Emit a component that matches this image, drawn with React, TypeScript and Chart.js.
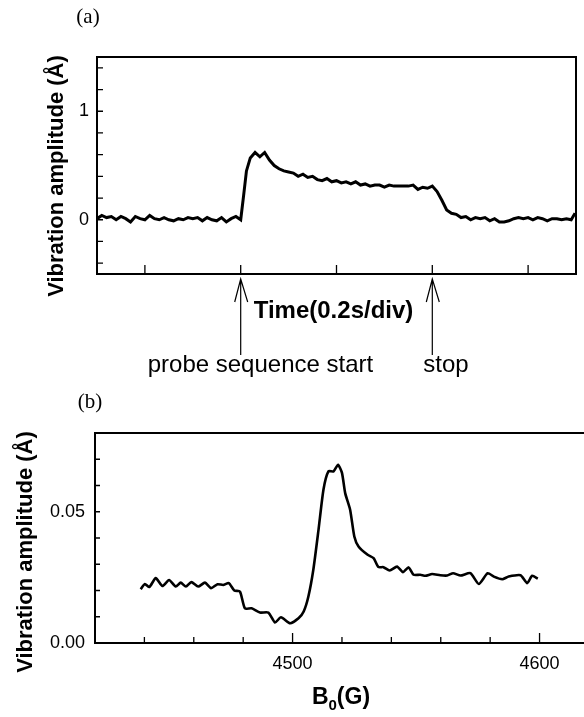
import React, { useEffect, useRef } from "react";
import { Chart, registerables } from "chart.js";

Chart.register(...registerables);

const SANS = '"Liberation Sans", Arial, Helvetica, sans-serif';
const SERIF = '"Liberation Serif", "Times New Roman", serif';

// ---------- (a) time trace ----------
const aTime = [
  0.5, 0.55, 0.6, 0.65, 0.7, 0.75, 0.8, 0.85, 0.9, 0.95,
  1.0, 1.05, 1.1, 1.15, 1.2, 1.25, 1.3, 1.35, 1.4, 1.45,
  1.5, 1.55, 1.6, 1.65, 1.7, 1.75, 1.8, 1.85, 1.9, 1.95,
  2.0, 2.03, 2.06, 2.1, 2.15, 2.2, 2.25, 2.3, 2.35, 2.4,
  2.45, 2.5, 2.55, 2.6, 2.65, 2.7, 2.75, 2.8, 2.85, 2.9,
  2.95, 3.0, 3.05, 3.1, 3.15, 3.2, 3.25, 3.3, 3.35, 3.4,
  3.45, 3.5, 3.55, 3.6, 3.65, 3.7, 3.75, 3.8, 3.85, 3.9,
  3.95, 4.0, 4.05, 4.1, 4.15, 4.2, 4.25, 4.3, 4.35, 4.4,
  4.45, 4.5, 4.55, 4.6, 4.65, 4.7, 4.75, 4.8, 4.85, 4.9,
  4.95, 5.0, 5.05, 5.1, 5.15, 5.2, 5.25, 5.3, 5.35, 5.4,
  5.45, 5.49,
];
const aAmp = [
  0.01, 0.04, 0.02, 0.03, 0.0, 0.03, 0.01, -0.02, 0.03, 0.01,
  0.0, 0.04, 0.01, 0.0, 0.02, 0.0, -0.01, 0.01, 0.0, 0.02,
  0.01, 0.02, -0.01, 0.02, 0.0, -0.01, 0.02, -0.02, 0.01, 0.03,
  0.0, 0.22, 0.45, 0.57, 0.62, 0.58, 0.62, 0.55, 0.5, 0.47,
  0.45, 0.44, 0.43, 0.4, 0.42, 0.39, 0.4, 0.37, 0.36, 0.38,
  0.35, 0.36, 0.34, 0.35, 0.33, 0.35, 0.32, 0.33, 0.31, 0.32,
  0.32, 0.3, 0.32, 0.31, 0.31, 0.31, 0.31, 0.32, 0.28, 0.3,
  0.29, 0.31, 0.26, 0.18, 0.09, 0.06, 0.05, 0.02, 0.03, 0.0,
  0.02, 0.01, 0.02, -0.01, 0.01, -0.02, -0.02, -0.01, 0.01, 0.02,
  0.01, 0.02, 0.0, 0.02, 0.01, -0.01, 0.01, 0.01, 0.0, 0.01,
  0.0, 0.06,
];
const aXTicks = [1, 2, 3, 4, 5];
const aYTicks = [-0.4, -0.2, 0, 0.2, 0.4, 0.6, 0.8, 1, 1.2, 1.4];
const aYLabeled = [0, 1];
const arrowTimes = [2, 4];
const arrowLabels = ["probe sequence start", "stop"];

// ---------- (b) field sweep ----------
const bField = [
  4438.5, 4440.2, 4442, 4444.6, 4447.3, 4450, 4452.7, 4454.7, 4456.8, 4459,
  4461.8, 4464.5, 4467, 4469.6, 4471.9, 4474.2, 4476.4, 4478.7, 4480.7, 4483.4,
  4486.8, 4490.2, 4492.9, 4495.3, 4499, 4502.4, 4504.5, 4506.4, 4508.4, 4510.5,
  4512.5, 4514.5, 4516.6, 4518.4, 4520, 4521.3, 4523.3, 4525, 4526.7, 4530.4,
  4532.8, 4534.8, 4536.8, 4539.3, 4542.3, 4544.7, 4547, 4549, 4551.7, 4553.8,
  4556.5, 4559.8, 4562.6, 4565, 4568, 4572, 4575.4, 4579, 4581.5, 4584.9,
  4587.5, 4592.3, 4595, 4597, 4599.3,
];
const bAmp = [
  0.0205, 0.0225, 0.0213, 0.0247, 0.0217, 0.024, 0.0215, 0.023, 0.0215, 0.0232,
  0.0215, 0.023, 0.0209, 0.0224, 0.0221, 0.0228, 0.02, 0.0196, 0.0132, 0.0132,
  0.0116, 0.0116, 0.0078, 0.0098, 0.0075, 0.0094, 0.012, 0.0177, 0.0279, 0.0431,
  0.0584, 0.0654, 0.0654, 0.0679, 0.0648, 0.0571, 0.0508, 0.0406, 0.0368, 0.0336,
  0.0323, 0.0289, 0.0289, 0.0276, 0.0291, 0.027, 0.0288, 0.026, 0.026, 0.0256,
  0.0263, 0.0258, 0.0257, 0.0266, 0.0257, 0.0266, 0.0225, 0.0266, 0.0253, 0.0243,
  0.0253, 0.0258, 0.0228, 0.0256, 0.0245,
];
const bXTicks = [4440, 4460, 4480, 4500, 4520, 4540, 4560, 4580, 4600];
const bYTicks = [0, 0.01, 0.02, 0.03, 0.04, 0.05, 0.06, 0.07];
const bYLabeled = [0, 0.05];
const bXLabeled = [4500, 4600];

const near = (v: number, list: number[]) => list.some((l) => Math.abs(v - l) < 1e-6);

function drawInwardTicks(chart: any, id: string, len: number, majorLen: number, majors: number[]) {
  const s = chart.scales[id];
  const ca = chart.chartArea;
  const ctx = chart.ctx;
  ctx.save();
  ctx.strokeStyle = "#000";
  ctx.lineWidth = 1.3;
  ctx.beginPath();
  s.ticks.forEach((t: any) => {
    const p = s.getPixelForValue(t.value);
    const L = near(t.value, majors) ? majorLen : len;
    if (s.isHorizontal()) {
      if (p <= ca.left + 1 || p >= ca.right - 1) return;
      ctx.moveTo(p, ca.bottom);
      ctx.lineTo(p, ca.bottom - L);
    } else {
      if (p >= ca.bottom - 1 || p <= ca.top + 1) return;
      ctx.moveTo(ca.left, p);
      ctx.lineTo(ca.left + L, p);
    }
  });
  ctx.stroke();
  ctx.restore();
}

function drawYTitle(ctx: CanvasRenderingContext2D, x: number, y: number) {
  ctx.save();
  ctx.translate(x, y);
  ctx.rotate(-Math.PI / 2);
  ctx.font = `bold 22px ${SANS}`;
  ctx.fillStyle = "#000";
  ctx.textAlign = "center";
  ctx.textBaseline = "alphabetic";
  ctx.fillText("Vibration amplitude (Å)", 0, 0);
  ctx.restore();
}

const panelAPlugin = {
  id: "panelA",
  afterDraw(chart: any) {
    const ctx = chart.ctx as CanvasRenderingContext2D;
    const ca = chart.chartArea;
    ctx.save();
    ctx.strokeStyle = "#000";
    ctx.lineWidth = 2;
    ctx.strokeRect(ca.left, ca.top, ca.right - ca.left, ca.bottom - ca.top);
    ctx.restore();
    drawInwardTicks(chart, "x", 9, 9, []);
    drawInwardTicks(chart, "y", 6, 6, []);

    ctx.save();
    ctx.fillStyle = "#000";
    ctx.font = `21px ${SERIF}`;
    ctx.textAlign = "center";
    ctx.textBaseline = "middle";
    ctx.fillText("(a)", 88, 17);

    drawYTitle(ctx, 63, 176);

    ctx.font = `bold 24px ${SANS}`;
    ctx.textAlign = "center";
    ctx.textBaseline = "middle";
    ctx.fillText("Time(0.2s/div)", (ca.left + ca.right) / 2 - 3, 311);

    const xs = chart.scales.x;
    ctx.strokeStyle = "#000";
    ctx.lineWidth = 1.2;
    ctx.font = `24px ${SANS}`;
    ctx.textAlign = "left";
    ctx.textBaseline = "alphabetic";
    arrowTimes.forEach((t, i) => {
      const px = xs.getPixelForValue(t);
      const tip = ca.bottom + 5;
      ctx.beginPath();
      ctx.moveTo(px, tip);
      ctx.lineTo(px, 355);
      ctx.moveTo(px - 6, tip + 23);
      ctx.lineTo(px, tip);
      ctx.lineTo(px + 7, tip + 23);
      ctx.stroke();
      const offset = i === 0 ? -93 : -9;
      ctx.fillText(arrowLabels[i], px + offset, 372);
    });
    ctx.restore();
  },
};

const panelBPlugin = {
  id: "panelB",
  afterDraw(chart: any) {
    const ctx = chart.ctx as CanvasRenderingContext2D;
    const ca = chart.chartArea;
    ctx.save();
    ctx.strokeStyle = "#000";
    ctx.lineWidth = 2;
    ctx.beginPath();
    ctx.moveTo(ca.right + 2, ca.top);
    ctx.lineTo(ca.left, ca.top);
    ctx.lineTo(ca.left, ca.bottom);
    ctx.lineTo(ca.right + 2, ca.bottom);
    ctx.stroke();
    ctx.restore();
    drawInwardTicks(chart, "x", 6, 10, bXLabeled);
    drawInwardTicks(chart, "y", 5, 5, []);

    ctx.save();
    ctx.fillStyle = "#000";
    ctx.font = `21px ${SERIF}`;
    ctx.textAlign = "center";
    ctx.textBaseline = "middle";
    ctx.fillText("(b)", 90, 17);

    drawYTitle(ctx, 32, 167);

    // B0(G)
    ctx.textAlign = "left";
    ctx.textBaseline = "alphabetic";
    const big = `bold 23px ${SANS}`;
    const small = `bold 15px ${SANS}`;
    ctx.font = big;
    const wB = ctx.measureText("B").width;
    const wG = ctx.measureText("(G)").width;
    ctx.font = small;
    const w0 = ctx.measureText("0").width;
    const total = wB + w0 + wG;
    const x0 = 341 - total / 2;
    const base = 319;
    ctx.font = big;
    ctx.fillText("B", x0, base);
    ctx.font = small;
    ctx.fillText("0", x0 + wB, base + 6);
    ctx.font = big;
    ctx.fillText("(G)", x0 + wB + w0, base);
    ctx.restore();
  },
};

const tickFont = { family: SANS, size: 18 };
const setTicks = (vals: number[]) => (s: any) => {
  s.ticks = vals.map((v) => ({ value: v }));
};

export default function App() {
  const refA = useRef<HTMLCanvasElement>(null);
  const refB = useRef<HTMLCanvasElement>(null);

  useEffect(() => {
    const chartA = new Chart(refA.current!, {
      type: "line",
      data: {
        datasets: [
          {
            data: aTime.map((t, i) => ({ x: t, y: aAmp[i] })),
            borderColor: "#000",
            borderWidth: 3,
            pointRadius: 0,
            tension: 0,
            fill: false,
          },
        ],
      },
      options: {
        responsive: false,
        animation: false,
        events: [],
        layout: { padding: { top: 57, right: 8, left: 0, bottom: 0 } },
        plugins: { legend: { display: false }, tooltip: { enabled: false } },
        scales: {
          x: {
            type: "linear",
            min: 0.5,
            max: 5.5,
            grid: { display: false, drawTicks: false },
            border: { display: false },
            ticks: { display: false, autoSkip: false },
            afterBuildTicks: setTicks(aXTicks),
            afterFit: (s: any) => {
              s.height = 111;
            },
          },
          y: {
            type: "linear",
            min: -0.5,
            max: 1.5,
            grid: { display: false, drawTicks: false },
            border: { display: false },
            afterBuildTicks: setTicks(aYTicks),
            ticks: {
              autoSkip: false,
              padding: 8,
              color: "#000",
              font: tickFont,
              callback: (v: any) => (near(Number(v), aYLabeled) ? String(Math.round(Number(v))) : ""),
            },
            afterFit: (s: any) => {
              s.width = 97;
            },
          },
        },
      } as any,
      plugins: [panelAPlugin],
    });

    const chartB = new Chart(refB.current!, {
      type: "line",
      data: {
        datasets: [
          {
            data: bField.map((g, i) => ({ x: g, y: bAmp[i] })),
            borderColor: "#000",
            borderWidth: 2.6,
            pointRadius: 0,
            tension: 0.2,
            fill: false,
          },
        ],
      },
      options: {
        responsive: false,
        animation: false,
        events: [],
        layout: { padding: { top: 48, right: 0, left: 0, bottom: 0 } },
        plugins: { legend: { display: false }, tooltip: { enabled: false } },
        scales: {
          x: {
            type: "linear",
            min: 4420,
            max: 4618,
            grid: { display: false, drawTicks: false },
            border: { display: false },
            afterBuildTicks: setTicks(bXTicks),
            ticks: {
              autoSkip: false,
              maxRotation: 0,
              padding: 10,
              color: "#000",
              font: tickFont,
              callback: (v: any) => (near(Number(v), bXLabeled) ? String(Math.round(Number(v))) : ""),
            },
            afterFit: (s: any) => {
              s.height = 74;
            },
          },
          y: {
            type: "linear",
            min: 0,
            max: 0.08,
            grid: { display: false, drawTicks: false },
            border: { display: false },
            afterBuildTicks: setTicks(bYTicks),
            ticks: {
              autoSkip: false,
              padding: 10,
              color: "#000",
              font: tickFont,
              callback: (v: any) => (near(Number(v), bYLabeled) ? Number(v).toFixed(2) : ""),
            },
            afterFit: (s: any) => {
              s.width = 95;
            },
          },
        },
      } as any,
      plugins: [panelBPlugin],
    });

    return () => {
      chartA.destroy();
      chartB.destroy();
    };
  }, []);

  return (
    <div
      style={{
        position: "absolute",
        left: 0,
        top: 0,
        width: 584,
        height: 717,
        overflow: "hidden",
        background: "#fff",
      }}
    >
      <canvas
        ref={refA}
        width={584}
        height={385}
        style={{ position: "absolute", left: 0, top: 0, display: "block" }}
      />
      <canvas
        ref={refB}
        width={584}
        height={332}
        style={{ position: "absolute", left: 0, top: 385, display: "block" }}
      />
    </div>
  );
}
